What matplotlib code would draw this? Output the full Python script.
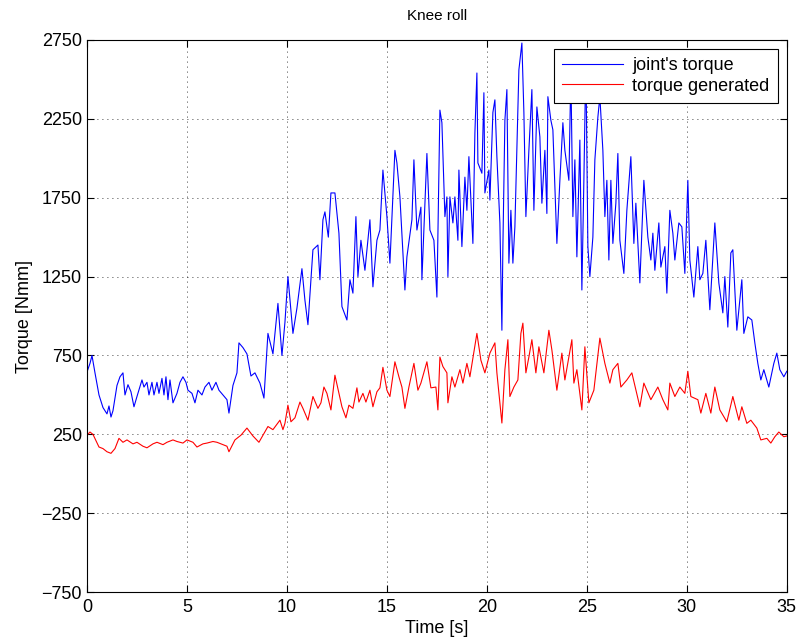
import numpy as np
import matplotlib
matplotlib.use("Agg")
from matplotlib import pyplot as plt

# joint's torque (blue)
t_joint = [0.0, 0.15, 0.25, 0.4, 0.6, 0.8, 1.0, 1.1, 1.2, 1.3, 1.5, 1.65, 1.8, 1.9, 2.05, 2.2, 2.35,
           2.5, 2.75, 2.85, 3.0, 3.1, 3.25, 3.35, 3.5, 3.6, 3.75, 3.85, 3.95, 4.05, 4.15, 4.3, 4.5,
           4.65, 4.8, 4.95, 5.05, 5.25, 5.4, 5.55, 5.75, 5.9, 6.1, 6.25, 6.45, 6.6, 6.8, 7.0,
           7.1, 7.3, 7.5, 7.6, 7.8, 8.0, 8.2, 8.4, 8.65, 8.85, 9.05, 9.3, 9.55, 9.75,
           9.9, 10.05, 10.3, 10.5, 10.75, 10.9, 11.05, 11.3, 11.55, 11.65, 11.8, 11.9, 12.07, 12.2,
           12.4, 12.6, 12.75, 13.0, 13.15, 13.3, 13.45, 13.55, 13.7, 13.9, 14.15, 14.3, 14.5, 14.65,
           14.8, 15.0, 15.15, 15.4, 15.5, 15.65, 15.9, 16.0, 16.25, 16.35, 16.5, 16.7, 16.75, 17.0,
           17.15, 17.35, 17.5, 17.65, 17.75, 17.9, 18.0, 18.05, 18.15, 18.3, 18.4, 18.55, 18.6, 18.75,
           18.9, 19.0, 19.1, 19.3, 19.4, 19.5, 19.55, 19.75, 19.85, 19.9, 20.1, 20.15, 20.3, 20.4,
           20.5, 20.65, 20.75, 20.8, 20.9, 21.0, 21.1, 21.2, 21.3, 21.4, 21.6, 21.75, 21.85, 21.95,
           22.1, 22.25, 22.35, 22.5, 22.65, 22.75, 22.9, 23.0, 23.05, 23.2, 23.3, 23.5, 23.65, 23.8,
           23.9, 24.1, 24.2, 24.3, 24.4, 24.5, 24.65, 24.75, 24.85, 24.95, 25.05, 25.15, 25.3, 25.4,
           25.55, 25.65, 25.8, 25.9, 26.0, 26.1, 26.2, 26.3, 26.45, 26.55, 26.65, 26.85, 27.0, 27.2,
           27.35, 27.45, 27.65, 27.85, 28.05, 28.2, 28.3, 28.4, 28.6, 28.7, 28.9, 29.0, 29.15, 29.3,
           29.4, 29.6, 29.75, 29.9, 30.05, 30.15, 30.35, 30.55, 30.65, 30.8, 30.95, 31.15, 31.4,
           31.6, 31.8, 31.9, 32.05, 32.2, 32.3, 32.5, 32.75, 32.85, 33.05, 33.25, 33.4, 33.55, 33.7,
           33.85, 34.1, 34.35, 34.5, 34.65, 34.85, 35.0]
joint = [645, 700, 750, 640, 500, 420, 380, 430, 360, 400, 560, 615, 640, 500, 565, 520, 425,
         490, 595, 550, 580, 500, 580, 500, 580, 510, 605, 500, 615, 470, 595, 450, 510,
         580, 615, 580, 530, 510, 450, 530, 500, 550, 580, 530, 580, 530, 500, 470,
         385, 560, 640, 830, 800, 760, 620, 640, 575, 480, 890, 760, 1080, 750,
         960, 1250, 890, 1050, 1300, 1100, 945, 1420, 1450, 1230, 1610, 1660, 1500, 1780,
         1780, 1525, 1060, 975, 1230, 1145, 1630, 1250, 1480, 1290, 1610, 1185, 1480, 1545,
         1925, 1630, 1335, 2050, 1970, 1755, 1165, 1375, 1610, 1990, 1545, 1690, 1230, 2030,
         1545, 1480, 1120, 2305, 2225, 1630, 1755, 1250, 1755, 1590, 1755, 1480, 1925, 1440,
         1880, 1670, 2010, 1460, 2160, 2540, 1970, 1905, 2415, 1780, 1925, 1735, 2290, 2370,
         2010, 1590, 910, 1440, 2240, 2435, 1335, 1670, 1335, 1565, 2560, 2730, 2290, 1630,
         2050, 2435, 1670, 2325, 2135, 1715, 2050, 1650, 2390, 2240, 2180, 1460, 1860, 2225,
         2050, 1860, 2540, 1630, 1990, 1375, 2115, 1165, 1860, 2625, 1440, 1250, 1500, 1990,
         2260, 2390, 2050, 1630, 1860, 1355, 1860, 1460, 1715, 2030, 1480, 1270, 1670, 2010,
         1460, 1715, 1210, 1860, 1500, 1355, 1525, 1290, 1590, 1310, 1440, 1145, 1670, 1525,
         1355, 1590, 1565, 1270, 1860, 1355, 1120, 1440, 1230, 1270, 1480, 1040, 1590,
         1210, 1020, 1250, 930, 1400, 1420, 910, 1230, 890, 995, 975, 830, 700, 595,
         660, 550, 700, 765, 660, 615, 650]

# torque generated (red)
t_gen = [0.0, 0.15, 0.3, 0.6, 0.8, 1.0, 1.2, 1.4, 1.6, 1.8, 2.0, 2.3, 2.5, 2.8, 3.0, 3.3, 3.5, 3.8,
         4.0, 4.3, 4.5, 4.8, 5.0, 5.3, 5.5, 5.8, 6.0, 6.3, 6.5, 6.8, 7.0, 7.1, 7.4, 7.7, 8.0, 8.3,
         8.6, 9.05, 9.3,
         9.65, 9.8, 9.9, 10.05, 10.2, 10.4, 10.65, 10.8, 11.05, 11.3, 11.55, 11.7, 11.85, 12.0,
         12.2, 12.4, 12.6, 12.75, 12.95, 13.1, 13.3, 13.5, 13.6, 13.8, 13.95, 14.15, 14.3, 14.5,
         14.65, 14.8, 15.0, 15.15, 15.4, 15.6, 15.75, 15.9, 16.1, 16.35, 16.55, 16.7, 17.0, 17.2,
         17.45, 17.55, 17.65,
         17.8, 18.0, 18.05,
         18.25, 18.4, 18.65, 18.8, 19.0, 19.15, 19.5, 19.7, 19.9, 20.15, 20.4, 20.5, 20.75,
         20.9, 21.05, 21.15, 21.35, 21.55, 21.7, 21.8, 21.95, 22.1, 22.25, 22.45, 22.6, 22.85,
         23.1, 23.25, 23.5, 23.75, 23.9, 24.25, 24.35, 24.5, 24.75, 24.9, 25.1, 25.35, 25.65,
         25.9, 26.15, 26.3, 26.55, 26.7, 27.0, 27.25, 27.65, 27.85, 28.2, 28.55, 28.8, 29.05,
         29.15, 29.4, 29.65, 29.9, 30.05, 30.2, 30.55, 30.7, 30.95, 31.2, 31.4, 31.65, 32.0,
         32.3, 32.6, 32.75, 33.0, 33.2, 33.5, 33.7, 34.0, 34.2, 34.4, 34.6, 34.85, 35.0]
generated = [245, 265, 250, 170, 160, 140, 130, 160, 225, 200, 215, 190, 200, 175, 165, 190, 200, 185,
             200, 215, 205, 195, 215, 200, 170, 190, 195, 205, 200, 185, 175, 140, 215, 245, 290, 240,
             200, 300, 280,
             340, 280, 320, 435, 330, 355, 455, 415, 340, 490, 415, 450, 550, 510,
             405, 625, 510, 425, 355, 435, 415, 545, 455, 510, 455, 530, 425, 520,
             545, 675, 530, 490, 710, 615, 550, 415, 550, 700, 530, 575, 710, 545,
             550, 405, 740,
             680, 640, 450,
             615, 550, 660, 575, 700, 615, 890, 720, 640, 765, 830, 640, 322,
             660, 850, 490, 550, 595, 890, 955, 640, 740, 850, 640, 805, 640,
             910, 785, 530, 765, 595, 850, 575, 660, 405, 805, 450, 530, 860,
             700, 575, 660, 700, 550, 595, 640, 425, 575, 470, 550, 470, 405,
             575, 490, 550, 510, 650, 490, 470, 385, 510, 385, 550, 405, 330,
             490, 340, 425, 320, 340, 290, 215, 225, 195, 235, 265, 235, 240]

xticks = [0, 5, 10, 15, 20, 25, 30, 35]
yticks = [-750, -250, 250, 750, 1250, 1750, 2250, 2750]

plt.rcParams['font.family'] = ['Liberation Sans', 'DejaVu Sans']

fig = plt.figure(figsize=(7.98, 6.43), dpi=100)
ax = fig.add_axes([0.109, 0.079, 0.877, 0.859])

ax.plot(t_joint, joint, color='blue', linewidth=0.8, label="joint's torque")
ax.plot(t_gen, generated, color='red', linewidth=0.8, label='torque generated')

ax.set_xlim(0, 35)
ax.set_ylim(-750, 2750)
ax.set_xticks(xticks)
ax.set_yticks(yticks)
ax.set_yticklabels([str(v).replace('-', '\u2212') for v in yticks])
ax.tick_params(direction='in', top=True, right=True, labelsize=13, length=5, width=0.8)
ax.tick_params(axis='x', pad=5)
ax.grid(True, linestyle=(0, (1, 5)), color='black', linewidth=0.6)

for s in ax.spines.values():
    s.set_linewidth(0.8)

ax.set_title('Knee roll', fontsize=11, pad=14)
ax.set_xlabel('Time [s]', fontsize=13, labelpad=3)
ax.set_ylabel('Torque [Nmm]', fontsize=13, labelpad=6)

leg = ax.legend(loc='upper right', fontsize=13, fancybox=False, framealpha=1,
                edgecolor='black', handlelength=3.4, borderaxespad=0.5,
                handletextpad=0.5, labelspacing=0.2, borderpad=0.45)
leg.get_frame().set_linewidth(0.8)

fig.savefig('out.png', dpi=100)
